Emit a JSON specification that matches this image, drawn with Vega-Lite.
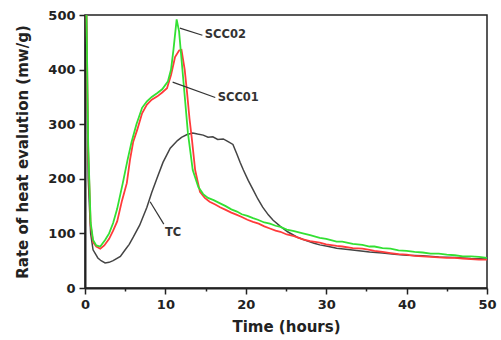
{
  "$schema": "https://vega.github.io/schema/vega-lite/v6.json",
  "width": 402,
  "height": 273,
  "autosize": "none",
  "padding": {"left": 85, "top": 15, "right": 14, "bottom": 52},
  "background": "white",
  "config": {
    "view": {"stroke": "#222", "strokeWidth": 1.5},
    "font": "DejaVu Sans",
    "axis": {
      "grid": false,
      "domainColor": "#222",
      "domainWidth": 2,
      "tickColor": "#222",
      "tickWidth": 1.5,
      "labelFlush": false,
      "labelOverlap": false,
      "labelFont": "DejaVu Sans",
      "labelFontWeight": "bold",
      "labelFontSize": 13,
      "labelColor": "#222",
      "titleFont": "DejaVu Sans",
      "titleFontWeight": "bold",
      "titleFontSize": 15,
      "titleColor": "#222"
    }
  },
  "datasets": {
    "curves": [
      {"series": "SCC02", "t": 0.1, "v": 600}, {"series": "SCC02", "t": 0.4, "v": 260}, {"series": "SCC02", "t": 0.7, "v": 120}, {"series": "SCC02", "t": 1.0, "v": 88}, {"series": "SCC02", "t": 1.4, "v": 78}, {"series": "SCC02", "t": 1.9, "v": 76}, {"series": "SCC02", "t": 2.5, "v": 88}, {"series": "SCC02", "t": 3.0, "v": 100}, {"series": "SCC02", "t": 3.5, "v": 119}, {"series": "SCC02", "t": 4.0, "v": 145}, {"series": "SCC02", "t": 4.7, "v": 192}, {"series": "SCC02", "t": 5.3, "v": 235}, {"series": "SCC02", "t": 5.8, "v": 268}, {"series": "SCC02", "t": 6.4, "v": 300}, {"series": "SCC02", "t": 7.1, "v": 330}, {"series": "SCC02", "t": 7.7, "v": 342}, {"series": "SCC02", "t": 8.3, "v": 350}, {"series": "SCC02", "t": 9.0, "v": 357}, {"series": "SCC02", "t": 9.6, "v": 364}, {"series": "SCC02", "t": 10.3, "v": 378}, {"series": "SCC02", "t": 10.7, "v": 400}, {"series": "SCC02", "t": 11.0, "v": 436}, {"series": "SCC02", "t": 11.4, "v": 492}, {"series": "SCC02", "t": 11.7, "v": 470}, {"series": "SCC02", "t": 12.2, "v": 386}, {"series": "SCC02", "t": 12.8, "v": 284}, {"series": "SCC02", "t": 13.1, "v": 250}, {"series": "SCC02", "t": 13.4, "v": 216}, {"series": "SCC02", "t": 14.1, "v": 185}, {"series": "SCC02", "t": 14.7, "v": 172}, {"series": "SCC02", "t": 15.3, "v": 165}, {"series": "SCC02", "t": 16.0, "v": 161}, {"series": "SCC02", "t": 16.8, "v": 155}, {"series": "SCC02", "t": 17.5, "v": 150}, {"series": "SCC02", "t": 18.2, "v": 144}, {"series": "SCC02", "t": 18.9, "v": 140}, {"series": "SCC02", "t": 19.5, "v": 135}, {"series": "SCC02", "t": 20.2, "v": 132}, {"series": "SCC02", "t": 20.9, "v": 128}, {"series": "SCC02", "t": 21.5, "v": 125}, {"series": "SCC02", "t": 22.3, "v": 120}, {"series": "SCC02", "t": 23.0, "v": 118}, {"series": "SCC02", "t": 23.7, "v": 114}, {"series": "SCC02", "t": 24.3, "v": 112}, {"series": "SCC02", "t": 25.1, "v": 107}, {"series": "SCC02", "t": 26.0, "v": 104}, {"series": "SCC02", "t": 27.1, "v": 100}, {"series": "SCC02", "t": 28.0, "v": 97}, {"series": "SCC02", "t": 29.2, "v": 92}, {"series": "SCC02", "t": 30.0, "v": 90}, {"series": "SCC02", "t": 31.3, "v": 85}, {"series": "SCC02", "t": 32.0, "v": 85}, {"series": "SCC02", "t": 33.3, "v": 81}, {"series": "SCC02", "t": 34.5, "v": 79}, {"series": "SCC02", "t": 35.4, "v": 76}, {"series": "SCC02", "t": 36.0, "v": 76}, {"series": "SCC02", "t": 37.0, "v": 73}, {"series": "SCC02", "t": 38.0, "v": 72}, {"series": "SCC02", "t": 39.0, "v": 69}, {"series": "SCC02", "t": 40.0, "v": 68}, {"series": "SCC02", "t": 41.0, "v": 66}, {"series": "SCC02", "t": 42.0, "v": 65}, {"series": "SCC02", "t": 43.0, "v": 63}, {"series": "SCC02", "t": 44.0, "v": 63}, {"series": "SCC02", "t": 45.0, "v": 61}, {"series": "SCC02", "t": 46.0, "v": 60}, {"series": "SCC02", "t": 47.0, "v": 58}, {"series": "SCC02", "t": 48.0, "v": 58}, {"series": "SCC02", "t": 49.0, "v": 57}, {"series": "SCC02", "t": 50.0, "v": 55},

      {"series": "SCC01", "t": 0.1, "v": 600}, {"series": "SCC01", "t": 0.4, "v": 250}, {"series": "SCC01", "t": 0.7, "v": 115}, {"series": "SCC01", "t": 1.0, "v": 84}, {"series": "SCC01", "t": 1.4, "v": 76}, {"series": "SCC01", "t": 1.9, "v": 72}, {"series": "SCC01", "t": 2.4, "v": 78}, {"series": "SCC01", "t": 3.0, "v": 90}, {"series": "SCC01", "t": 3.5, "v": 105}, {"series": "SCC01", "t": 4.0, "v": 122}, {"series": "SCC01", "t": 4.6, "v": 160}, {"series": "SCC01", "t": 5.2, "v": 192}, {"series": "SCC01", "t": 5.6, "v": 235}, {"series": "SCC01", "t": 6.0, "v": 268}, {"series": "SCC01", "t": 6.5, "v": 290}, {"series": "SCC01", "t": 7.1, "v": 320}, {"series": "SCC01", "t": 7.7, "v": 336}, {"series": "SCC01", "t": 8.3, "v": 345}, {"series": "SCC01", "t": 9.0, "v": 351}, {"series": "SCC01", "t": 9.6, "v": 358}, {"series": "SCC01", "t": 10.2, "v": 366}, {"series": "SCC01", "t": 10.7, "v": 390}, {"series": "SCC01", "t": 11.2, "v": 423}, {"series": "SCC01", "t": 11.7, "v": 435}, {"series": "SCC01", "t": 12.0, "v": 436}, {"series": "SCC01", "t": 12.4, "v": 400}, {"series": "SCC01", "t": 12.7, "v": 357}, {"series": "SCC01", "t": 13.0, "v": 310}, {"series": "SCC01", "t": 13.3, "v": 272}, {"series": "SCC01", "t": 13.7, "v": 216}, {"series": "SCC01", "t": 14.3, "v": 176}, {"series": "SCC01", "t": 14.9, "v": 165}, {"series": "SCC01", "t": 15.5, "v": 158}, {"series": "SCC01", "t": 16.2, "v": 153}, {"series": "SCC01", "t": 16.8, "v": 148}, {"series": "SCC01", "t": 17.5, "v": 143}, {"series": "SCC01", "t": 18.2, "v": 138}, {"series": "SCC01", "t": 18.9, "v": 134}, {"series": "SCC01", "t": 19.5, "v": 130}, {"series": "SCC01", "t": 20.2, "v": 125}, {"series": "SCC01", "t": 20.9, "v": 121}, {"series": "SCC01", "t": 21.6, "v": 118}, {"series": "SCC01", "t": 22.3, "v": 113}, {"series": "SCC01", "t": 23.0, "v": 109}, {"series": "SCC01", "t": 23.7, "v": 105}, {"series": "SCC01", "t": 24.3, "v": 103}, {"series": "SCC01", "t": 25.1, "v": 98}, {"series": "SCC01", "t": 26.0, "v": 95}, {"series": "SCC01", "t": 27.1, "v": 89}, {"series": "SCC01", "t": 28.0, "v": 86}, {"series": "SCC01", "t": 29.2, "v": 83}, {"series": "SCC01", "t": 30.0, "v": 80}, {"series": "SCC01", "t": 31.3, "v": 77}, {"series": "SCC01", "t": 32.0, "v": 76}, {"series": "SCC01", "t": 33.3, "v": 73}, {"series": "SCC01", "t": 34.5, "v": 72}, {"series": "SCC01", "t": 35.4, "v": 70}, {"series": "SCC01", "t": 36.0, "v": 68}, {"series": "SCC01", "t": 37.0, "v": 66}, {"series": "SCC01", "t": 38.0, "v": 64}, {"series": "SCC01", "t": 39.0, "v": 62}, {"series": "SCC01", "t": 40.0, "v": 61}, {"series": "SCC01", "t": 41.0, "v": 59}, {"series": "SCC01", "t": 42.0, "v": 58}, {"series": "SCC01", "t": 43.0, "v": 57}, {"series": "SCC01", "t": 44.0, "v": 56}, {"series": "SCC01", "t": 45.0, "v": 55}, {"series": "SCC01", "t": 46.0, "v": 55}, {"series": "SCC01", "t": 47.0, "v": 54}, {"series": "SCC01", "t": 48.0, "v": 53}, {"series": "SCC01", "t": 49.0, "v": 52}, {"series": "SCC01", "t": 50.0, "v": 52},

      {"series": "TC", "t": 0.1, "v": 600}, {"series": "TC", "t": 0.4, "v": 200}, {"series": "TC", "t": 0.7, "v": 100}, {"series": "TC", "t": 1.0, "v": 70}, {"series": "TC", "t": 1.6, "v": 55}, {"series": "TC", "t": 2.0, "v": 50}, {"series": "TC", "t": 2.5, "v": 46}, {"series": "TC", "t": 3.0, "v": 47}, {"series": "TC", "t": 3.5, "v": 50}, {"series": "TC", "t": 4.4, "v": 58}, {"series": "TC", "t": 5.0, "v": 70}, {"series": "TC", "t": 5.5, "v": 80}, {"series": "TC", "t": 6.0, "v": 93}, {"series": "TC", "t": 6.8, "v": 115}, {"series": "TC", "t": 7.7, "v": 148}, {"series": "TC", "t": 8.3, "v": 175}, {"series": "TC", "t": 9.0, "v": 203}, {"series": "TC", "t": 9.7, "v": 230}, {"series": "TC", "t": 10.6, "v": 256}, {"series": "TC", "t": 11.5, "v": 270}, {"series": "TC", "t": 12.0, "v": 276}, {"series": "TC", "t": 12.7, "v": 281}, {"series": "TC", "t": 13.4, "v": 284}, {"series": "TC", "t": 14.0, "v": 282}, {"series": "TC", "t": 14.7, "v": 280}, {"series": "TC", "t": 15.3, "v": 276}, {"series": "TC", "t": 15.9, "v": 277}, {"series": "TC", "t": 16.5, "v": 272}, {"series": "TC", "t": 17.2, "v": 273}, {"series": "TC", "t": 17.8, "v": 268}, {"series": "TC", "t": 18.4, "v": 263}, {"series": "TC", "t": 18.9, "v": 245}, {"series": "TC", "t": 19.3, "v": 230}, {"series": "TC", "t": 19.7, "v": 216}, {"series": "TC", "t": 20.3, "v": 197}, {"series": "TC", "t": 20.9, "v": 180}, {"series": "TC", "t": 21.5, "v": 163}, {"series": "TC", "t": 22.1, "v": 148}, {"series": "TC", "t": 22.8, "v": 134}, {"series": "TC", "t": 23.4, "v": 124}, {"series": "TC", "t": 24.3, "v": 113}, {"series": "TC", "t": 25.2, "v": 103}, {"series": "TC", "t": 26.4, "v": 93}, {"series": "TC", "t": 27.5, "v": 87}, {"series": "TC", "t": 28.5, "v": 82}, {"series": "TC", "t": 29.2, "v": 79}, {"series": "TC", "t": 30.3, "v": 76}, {"series": "TC", "t": 31.3, "v": 73}, {"series": "TC", "t": 33.0, "v": 70}, {"series": "TC", "t": 35.4, "v": 66}, {"series": "TC", "t": 37.0, "v": 64}, {"series": "TC", "t": 38.5, "v": 62}, {"series": "TC", "t": 40.0, "v": 60}, {"series": "TC", "t": 42.0, "v": 59}, {"series": "TC", "t": 44.0, "v": 57}, {"series": "TC", "t": 46.0, "v": 56}, {"series": "TC", "t": 48.0, "v": 54}, {"series": "TC", "t": 50.0, "v": 53}
    ],
    "labels": [
      {"label": "SCC02", "t0": 11.8, "v0": 476, "t1": 14.6, "v1": 463, "tx": 14.9, "vx": 463},
      {"label": "SCC01", "t0": 10.9, "v0": 377, "t1": 16.2, "v1": 349, "tx": 16.5, "vx": 348},
      {"label": "TC", "t0": 8.1, "v0": 158, "t1": 9.8, "v1": 117, "tx": 9.95, "vx": 101}
    ]
  },
  "layer": [
    {
      "data": {"name": "curves"},
      "transform": [{"filter": "datum.series === 'TC'"}],
      "mark": {"type": "line", "color": "#444444", "strokeWidth": 1.5, "clip": true},
      "encoding": {
        "x": {"field": "t", "type": "quantitative", "scale": {"domain": [0, 50], "nice": false},
          "axis": {"title": "Time (hours)", "values": [0, 5, 10, 15, 20, 25, 30, 35, 40, 45, 50],
            "labelExpr": "datum.value % 10 === 0 ? datum.label : ''",
            "tickSize": {"condition": {"test": "datum.value % 10 !== 0", "value": 3}, "value": 6},
            "labelPadding": 4, "titlePadding": 8}},
        "y": {"field": "v", "type": "quantitative", "scale": {"domain": [0, 500], "nice": false},
          "axis": {"title": "Rate of heat evalution (mw/g)", "values": [0, 50, 100, 150, 200, 250, 300, 350, 400, 450, 500],
            "labelExpr": "datum.value % 100 === 0 ? datum.label : ''",
            "tickSize": {"condition": {"test": "datum.value % 100 !== 0", "value": 3}, "value": 6},
            "labelPadding": 4, "titlePadding": 17}}
      }
    },
    {
      "data": {"name": "curves"},
      "transform": [{"filter": "datum.series === 'SCC01'"}],
      "mark": {"type": "line", "color": "#ff3b3b", "strokeWidth": 1.8, "clip": true},
      "encoding": {
        "x": {"field": "t", "type": "quantitative"},
        "y": {"field": "v", "type": "quantitative"}
      }
    },
    {
      "data": {"name": "curves"},
      "transform": [{"filter": "datum.series === 'SCC02'"}],
      "mark": {"type": "line", "color": "#33e033", "strokeWidth": 1.8, "clip": true},
      "encoding": {
        "x": {"field": "t", "type": "quantitative"},
        "y": {"field": "v", "type": "quantitative"}
      }
    },
    {
      "data": {"name": "labels"},
      "mark": {"type": "rule", "color": "#333333", "strokeWidth": 1.2},
      "encoding": {
        "x": {"field": "t0", "type": "quantitative"},
        "y": {"field": "v0", "type": "quantitative"},
        "x2": {"field": "t1"},
        "y2": {"field": "v1"}
      }
    },
    {
      "data": {"name": "labels"},
      "mark": {"type": "text", "align": "left", "baseline": "middle", "font": "DejaVu Sans", "fontWeight": "bold", "fontSize": 11.5, "color": "#333333"},
      "encoding": {
        "x": {"field": "tx", "type": "quantitative"},
        "y": {"field": "vx", "type": "quantitative"},
        "text": {"field": "label"}
      }
    }
  ]
}
